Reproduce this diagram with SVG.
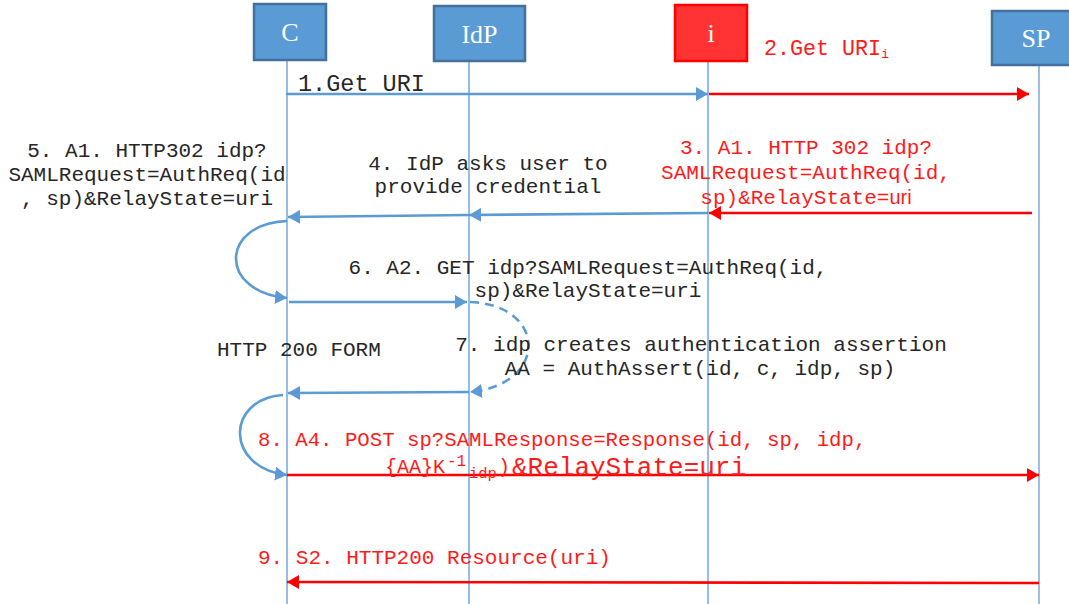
<svg xmlns="http://www.w3.org/2000/svg" width="1069" height="604" viewBox="0 0 1069 604">
<style>
.box{fill:#5b9bd5;stroke:#41719c;stroke-width:2.5}
.rbox{fill:#ff3333;stroke:#ff0000;stroke-width:2.5}
.nt{font-family:"Liberation Serif","Times New Roman",serif;font-size:26px;fill:#ffffff;text-anchor:middle}
.life{stroke:#5b9bd5;stroke-width:1.3;fill:none}
.b{stroke:#5b9bd5;stroke-width:2.6;fill:none}
.r{stroke:#ff0000;stroke-width:2.6;fill:none}
.lb{font-family:"Liberation Mono","Courier New",monospace;font-size:21px;fill:#262626}
.lr{font-family:"Liberation Mono","Courier New",monospace;font-size:21px;fill:#ff1a1a}
.m{text-anchor:middle}
</style>
<defs>
<marker id="ab" markerUnits="userSpaceOnUse" markerWidth="13" markerHeight="14" refX="12" refY="7" orient="auto"><path d="M0,0 L12,7 L0,14 z" fill="#5b9bd5"/></marker>
<marker id="ar" markerUnits="userSpaceOnUse" markerWidth="13" markerHeight="14" refX="12" refY="7" orient="auto"><path d="M0,0 L12,7 L0,14 z" fill="#ff0000"/></marker>
</defs>
<rect width="1069" height="604" fill="#ffffff"/>
<g id="lifelines">
<line class="life" x1="287" y1="60" x2="287" y2="604"/>
<line class="life" x1="469" y1="62" x2="469" y2="604"/>
<line class="life" x1="708" y1="61" x2="708" y2="604"/>
<line x1="1039" y1="65" x2="1039" y2="604" stroke="#8fb8e0" stroke-width="1.8"/>
</g>
<g id="node-C"><rect class="box" x="254" y="4" width="72" height="56"/><text class="nt" x="290" y="41">C</text></g>
<g id="node-IdP"><rect class="box" x="434" y="6" width="91" height="55"/><text class="nt" x="479.5" y="43">IdP</text></g>
<g id="node-i"><rect class="rbox" x="675" y="5" width="72" height="56"/><text class="nt" x="711" y="42">i</text></g>
<g id="node-SP"><rect class="box" x="992" y="11" width="82" height="54"/><text class="nt" x="1036" y="47">SP</text></g>
<g id="connectors">
<line class="b" x1="286" y1="94" x2="708" y2="94" marker-end="url(#ab)"/>
<line class="r" x1="709" y1="94" x2="1029" y2="94" marker-end="url(#ar)"/>
<line class="r" x1="1032" y1="213" x2="709" y2="213" marker-end="url(#ar)"/>
<line class="b" x1="708" y1="213" x2="469" y2="215" marker-end="url(#ab)"/>
<line class="b" x1="469" y1="215" x2="288" y2="217" marker-end="url(#ab)"/>
<path class="b" d="M287 221 C219 224 219 292 287 298" marker-end="url(#ab)"/>
<line class="b" x1="289" y1="302" x2="467" y2="302" marker-end="url(#ab)"/>
<path class="b" d="M470 302 C548 305 548 385 470 392" stroke-dasharray="9 6" marker-end="url(#ab)"/>
<line class="b" x1="469" y1="392" x2="288" y2="393" marker-end="url(#ab)"/>
<path class="b" d="M283 395 C225 399 225 468 287 475" marker-end="url(#ab)"/>
<line class="r" x1="287" y1="475" x2="1039" y2="475" marker-end="url(#ar)"/>
<line class="r" x1="1039" y1="583" x2="287" y2="582" marker-end="url(#ar)"/>
</g>
<g id="labels">
<text class="lb" x="298" y="91" style="font-size:23.5px">1.Get URI</text>
<text class="lr" x="764" y="55" style="font-size:21.7px">2.Get URI<tspan font-size="13" dy="3">i</tspan></text>
<text class="lr m" x="806" y="154">3. A1. HTTP 302 idp?</text>
<text class="lr m" x="806" y="179">SAMLRequest=AuthReq(id,</text>
<text class="lr m" x="806" y="204">sp)&amp;RelayState=<tspan font-family="Liberation Sans, Arial, sans-serif" font-size="20">uri</tspan></text>
<text class="lb m" x="488" y="170">4. IdP asks user to</text>
<text class="lb m" x="488" y="193">provide credential</text>
<text class="lb m" x="147" y="157">5. A1. HTTP302 idp?</text>
<text class="lb m" x="147" y="181">SAMLRequest=AuthReq(id</text>
<text class="lb m" x="147" y="205">, sp)&amp;RelayState=uri</text>
<text class="lb m" x="588" y="274">6. A2. GET idp?SAMLRequest=AuthReq(id,</text>
<text class="lb m" x="588" y="297">sp)&amp;RelayState=uri</text>
<text class="lb" x="217" y="356">HTTP 200 FORM</text>
<text class="lb m" x="701" y="351">7. idp creates authentication assertion</text>
<text class="lb m" x="700" y="375">AA = AuthAssert(id, c, idp, sp)</text>
<text class="lr" x="258" y="446" style="font-size:20.7px">8. A4. POST sp?SAMLResponse=Response(id, sp, idp,</text>
<text class="lr" x="385" y="473" style="font-size:20px">{AA}K<tspan font-size="16" x="447" y="466">-1</tspan><tspan font-size="15.5" x="469" y="478">idp</tspan><tspan font-size="20" x="498" y="473">)</tspan><tspan font-size="26" x="512" y="475">&amp;RelayState=uri</tspan></text>
<text class="lr" x="258" y="564">9. S2. HTTP200 Resource(uri)</text>
</g>
</svg>
